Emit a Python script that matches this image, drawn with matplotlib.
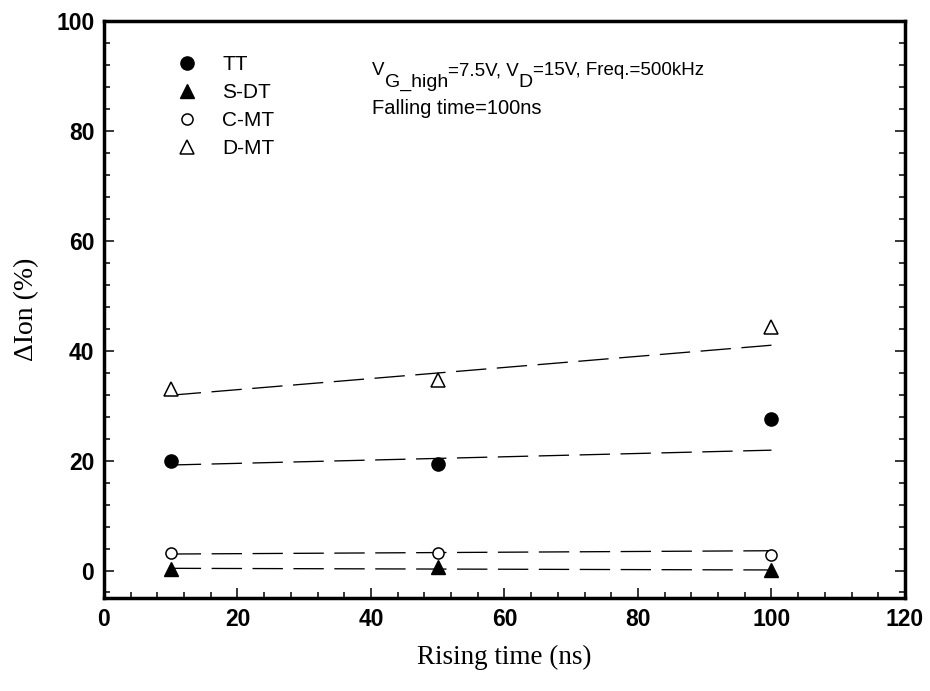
import numpy as np
import matplotlib
matplotlib.use("Agg")
import matplotlib.pyplot as plt
from matplotlib.ticker import MultipleLocator

plt.rcParams['font.family'] = ['Liberation Sans', 'DejaVu Sans']

# data
rise = [10, 50, 100]
tt = [20.0, 19.3, 27.5]
sdt = [0.3, 0.6, 0.1]
cmt = [3.2, 3.1, 2.9]
dmt = [33.0, 34.6, 44.4]

# dashed trend lines (values at 10 and 100 ns)
fit_x = [10, 100]
tt_fit = [19.2, 21.9]
sdt_fit = [0.4, 0.1]
cmt_fit = [3.0, 3.6]
dmt_fit = [31.9, 41.0]

labels = ["TT", "S-DT", "C-MT", "D-MT"]

W, H = 930, 691
fig = plt.figure(figsize=(W / 100, H / 100), dpi=100)
ax = fig.add_axes([0.1118, 0.1346, 0.8613, 0.835])

dash = dict(c="k", lw=0.95, dashes=(23, 8))
for yy in [tt_fit, sdt_fit, cmt_fit, dmt_fit]:
    ax.plot(fit_x, yy, **dash)

h1, = ax.plot(rise, tt, "o", ms=9.5, mfc="k", mec="k", ls="none")
h2, = ax.plot(rise, sdt, "^", ms=10, mfc="k", mec="k", ls="none")
h3, = ax.plot(rise, cmt, "o", ms=8, mfc="white", mec="k", mew=1.1, ls="none")
h4, = ax.plot(rise, dmt, "^", ms=10, mfc="white", mec="k", mew=1.1, ls="none")

ax.legend([h1, h2, h3, h4], labels, loc="upper left", bbox_to_anchor=(0.08, 0.955),
          frameon=False, fontsize=15, handlelength=1.0, handletextpad=1.2,
          labelspacing=0.43, numpoints=1, borderaxespad=0)

# condition text, subscripts drawn as separate pieces (dropped below baseline)
r = fig.canvas.get_renderer()
pieces = [("V", 13.5, 75), ("G_high", 14, 87), ("=7.5V, V", 13.5, 75), ("D", 14, 87),
          ("=15V, Freq.=500kHz", 13.5, 75)]
xp = 372
for s, fs, yb in pieces:
    t = fig.text(xp / W, 1 - yb / H, s, fontsize=fs, va="baseline", ha="left")
    xp = xp + t.get_window_extent(renderer=r).width
fig.text(372 / W, 1 - 114 / H, "Falling time=100ns", fontsize=14.5, va="baseline", ha="left")

ax.set_xlim(0, 120)
ax.set_ylim(-5, 100)
ax.xaxis.set_major_locator(MultipleLocator(20))
ax.xaxis.set_minor_locator(MultipleLocator(4))
ax.yaxis.set_major_locator(MultipleLocator(20))
ax.yaxis.set_minor_locator(MultipleLocator(4))
ax.tick_params(which="both", direction="in", right=True, top=False, width=1.1)
ax.tick_params(which="major", length=7, pad=7)
ax.tick_params(which="minor", length=4)
for lab in ax.get_xticklabels() + ax.get_yticklabels():
    lab.set_fontweight("bold")
    lab.set_fontsize(16.5)
for s in ax.spines.values():
    s.set_linewidth(2.5)

ax.set_xlabel("Rising time (ns)", family="Liberation Serif", fontsize=19.5, labelpad=10)
ax.set_ylabel("ΔIon (%)", family="Liberation Serif", fontsize=20, labelpad=12)

fig.savefig("out.png", dpi=100)
